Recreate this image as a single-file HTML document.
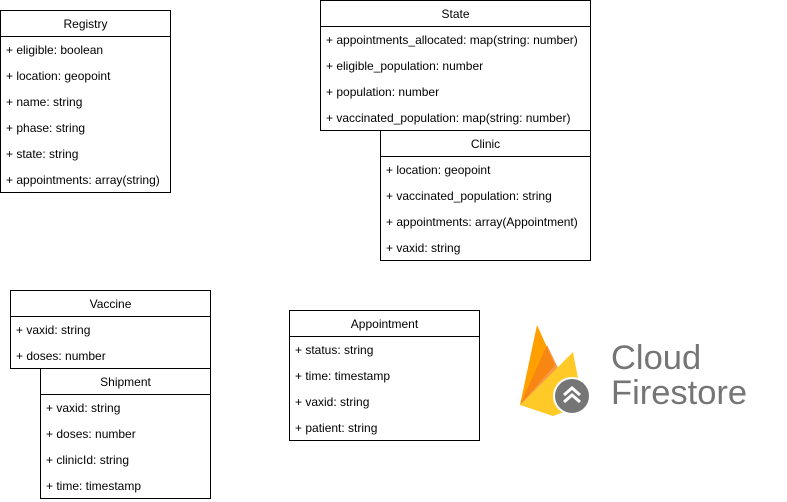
<!DOCTYPE html>
<html><head><meta charset="utf-8"><style>
body{margin:0;width:787px;height:502px;background:#fff;position:relative;overflow:hidden;font-family:"Liberation Sans",Arial,sans-serif;font-size:12px;color:#000}
.b{position:absolute;border:1px solid #000;background:#fff;box-sizing:border-box}
.h{height:26px;line-height:26px;text-align:center;border-bottom:1px solid #000;box-sizing:border-box}
.r{height:26px;line-height:26px;padding-left:5px;white-space:nowrap}
</style></head><body>
<div class="b" style="left:0;top:10px;width:171px;height:183px">
<div class="h">Registry</div>
<div class="r">+ eligible: boolean</div><div class="r">+ location: geopoint</div><div class="r">+ name: string</div><div class="r">+ phase: string</div><div class="r">+ state: string</div><div class="r">+ appointments: array(string)</div>
</div>
<div class="b" style="left:320px;top:0;width:271px;height:131px">
<div class="h">State</div>
<div class="r">+ appointments_allocated: map(string: number)</div><div class="r">+ eligible_population: number</div><div class="r">+ population: number</div><div class="r">+ vaccinated_population: map(string: number)</div>
</div>
<div class="b" style="left:380px;top:130px;width:211px;height:131px">
<div class="h">Clinic</div>
<div class="r">+ location: geopoint</div><div class="r">+ vaccinated_population: string</div><div class="r">+ appointments: array(Appointment)</div><div class="r">+ vaxid: string</div>
</div>
<div class="b" style="left:40px;top:368px;width:171px;height:131px">
<div class="h">Shipment</div>
<div class="r">+ vaxid: string</div><div class="r">+ doses: number</div><div class="r">+ clinicId: string</div><div class="r">+ time: timestamp</div>
</div>
<div class="b" style="left:10px;top:290px;width:201px;height:79px">
<div class="h">Vaccine</div>
<div class="r">+ vaxid: string</div><div class="r">+ doses: number</div>
</div>
<div class="b" style="left:289px;top:310px;width:191px;height:131px">
<div class="h">Appointment</div>
<div class="r">+ status: string</div><div class="r">+ time: timestamp</div><div class="r">+ vaxid: string</div><div class="r">+ patient: string</div>
</div>
<svg style="position:absolute;left:515px;top:320px" width="80" height="100" viewBox="0 0 80 100">
<path d="M5 85 L22 5 L40 45 Z" fill="#FFA000"/>
<path d="M5 85 L32 25 L44 50 Z" fill="#F57F17" opacity="0.8"/>
<path d="M5 85 L58 32 L68 85 L38 96 Z" fill="#FFCA28"/>
<circle cx="57" cy="76" r="18" fill="#757575" stroke="#fff" stroke-width="2"/>
<path d="M49 75 L57 68 L65 75 M49 82 L57 75 L65 82" stroke="#fff" stroke-width="3" fill="none"/>
</svg>
<div style="position:absolute;left:611px;top:339px;font-size:34.5px;color:#757575;line-height:38px">Cloud</div>
<div style="position:absolute;left:611px;top:374px;font-size:34.5px;color:#757575;line-height:38px">Firestore</div>
</body></html>
